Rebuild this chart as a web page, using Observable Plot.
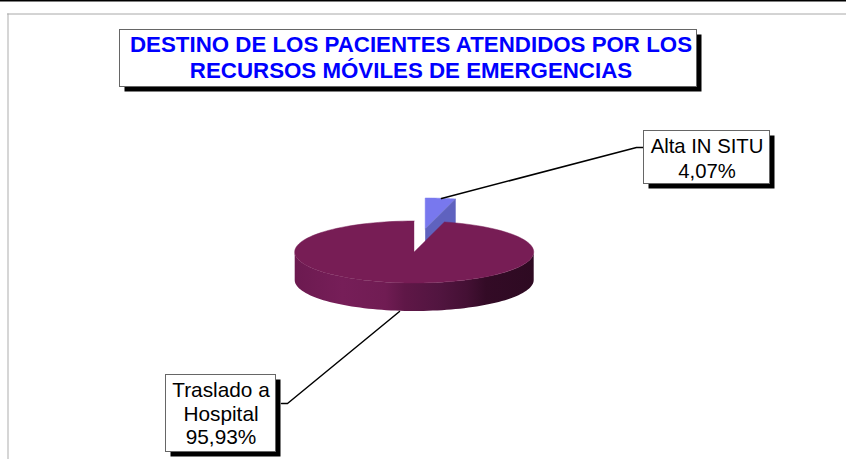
<!DOCTYPE html>
<html><head><meta charset="utf-8">
<script src="https://cdn.jsdelivr.net/npm/d3@7"></script>
<script src="https://cdn.jsdelivr.net/npm/@observablehq/plot@0.6"></script>
<style>html,body{margin:0;padding:0;background:#fff}svg{display:block}</style>
</head><body><div id="c"></div>
<script>
const categories = ["Traslado a Hospital", "Alta IN SITU"];
const shares = [95.93, 4.07];
const shareLabels = ["95,93%", "4,07%"];
const titleLines = ["DESTINO DE LOS PACIENTES ATENDIDOS POR LOS", "RECURSOS MÓVILES DE EMERGENCIAS"];
const labelLines = [["Traslado a", "Hospital", "95,93%"], ["Alta IN SITU", "4,07%"]];

const W = 846, H = 459;
const cx = 413.7, cy = 251.5, rx = 119.5, ry = 31, depth = 28;
const ox = 11, oy = -23;
const sweep = shares[1] / d3.sum(shares) * 2 * Math.PI;
const rim = (t, dx = 0, dy = 0) => ({x: cx + dx + rx * Math.sin(t), y: cy + dy - ry * Math.cos(t)});
const range = (a, b, n = 120) => d3.range(n + 1).map(i => a + (b - a) * i / n);

const mainTop = [{x: cx, y: cy}, ...range(sweep, 2 * Math.PI).map(t => rim(t))];
const blueTop = [{x: cx + ox, y: cy + oy}, ...range(0, sweep, 12).map(t => rim(t, ox, oy))];
const blueInner = [{x: cx + ox, y: cy + oy}, rim(sweep, ox, oy), rim(sweep, ox, oy + depth), {x: cx + ox, y: cy + oy + depth}];

const frontRim = range(Math.PI / 2, 3 * Math.PI / 2, 80).map(t => rim(t));
const side = [...frontRim, ...frontRim.slice().reverse().map(p => ({x: p.x, y: p.y + depth}))];

const shadeStops = [
  [0, "#6c1a50"], [0.2, "#761e58"], [0.38, "#701c53"], [0.46, "#5f1747"],
  [0.6, "#521540"], [0.72, "#441034"], [0.8, "#330b26"], [1, "#2e0a22"]
];
const gradient = () => {
  const ns = "http://www.w3.org/2000/svg";
  const defs = document.createElementNS(ns, "defs");
  const g = document.createElementNS(ns, "linearGradient");
  g.setAttribute("id", "sideShade");
  g.setAttribute("gradientUnits", "userSpaceOnUse");
  g.setAttribute("x1", cx - rx); g.setAttribute("x2", cx + rx);
  g.setAttribute("y1", 0); g.setAttribute("y2", 0);
  for (const [o, c] of shadeStops) {
    const s = document.createElementNS(ns, "stop");
    s.setAttribute("offset", o); s.setAttribute("stop-color", c);
    g.append(s);
  }
  defs.append(g);
  return defs;
};

function box(x1, y1, x2, y2, shadow = 5) {
  return [
    Plot.rect([0], {x1: x1 + shadow, y1: y1 + shadow, x2: x2 + shadow, y2: y2 + shadow, fill: "#000"}),
    Plot.rect([0], {x1, y1, x2, y2, fill: "#fff", stroke: "#666", strokeWidth: 1})
  ];
}
const seg = (pts, o) => Plot.line(pts, {x: "x", y: "y", curve: "linear", ...o});
const txt = (lines, x, y0, lh, o) => Plot.text(lines, {x: () => x, y: (d, i) => y0 + i * lh, text: d => d, textAnchor: "middle", fontFamily: "Liberation Sans", ...o});

const chart = Plot.plot({
  width: W, height: H, margin: 0,
  style: {background: "#fff", overflow: "visible"},
  x: {domain: [0, W], range: [0, W], axis: null},
  y: {domain: [0, H], range: [0, H], axis: null},
  marks: [
    gradient,
    seg([{x: 0, y: 0}, {x: W, y: 0}], {stroke: "#000", strokeWidth: 2}),
    seg([{x: 7.5, y: H}, {x: 7.5, y: 13.5}], {stroke: "#c8c8c8", strokeWidth: 1.5}),
    seg([{x: 7, y: 13.5}, {x: W, y: 13.5}], {stroke: "#a8a8a8", strokeWidth: 1}),
    ...box(119.5, 29.5, 696.5, 86.5),
    txt(titleLines, 410.5, 44.5, 26, {fontSize: 22.3, fontWeight: "bold", fill: "#0000ff"}),
    seg(blueTop, {fill: "#7878ee", stroke: "#7878ee", strokeWidth: 0.5}),
    seg(blueInner, {fill: "#5f62bf", stroke: "#5f62bf", strokeWidth: 0.5}),
    seg(side, {fill: "url(#sideShade)"}),
    seg(mainTop, {fill: "#771d55", stroke: "#771d55", strokeWidth: 0.5}),
    seg([{x: 441, y: 198}, {x: 636, y: 147}, {x: 643, y: 147}], {stroke: "#000", strokeWidth: 1.5}),
    seg([{x: 399, y: 311}, {x: 287, y: 403}, {x: 281, y: 403}], {stroke: "#000", strokeWidth: 1.5}),
    ...box(643.5, 130.5, 769.5, 183.5),
    txt(labelLines[1], 706.5, 146, 25, {fontSize: 20.3, fill: "#000"}),
    ...box(165.5, 374.5, 275.5, 451.5),
    txt(labelLines[0], 220.5, 390, 23.5, {fontSize: 20.8, fill: "#000"})
  ]
});
document.getElementById("c").append(chart);
</script></body></html>
